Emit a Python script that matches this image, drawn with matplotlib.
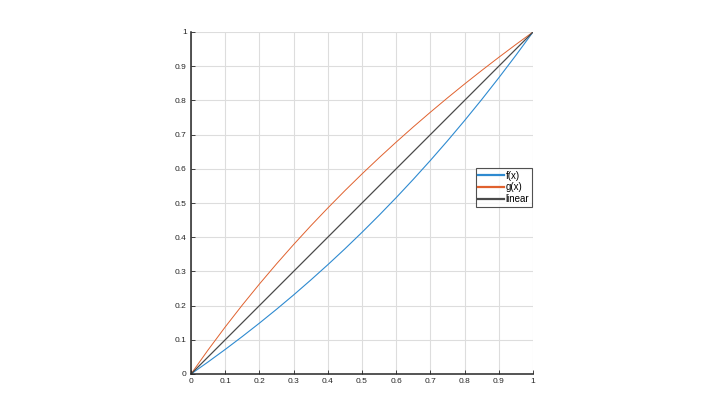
import matplotlib
matplotlib.use("Agg")
import matplotlib.pyplot as plt

x = [0.0, 0.05, 0.1, 0.15, 0.2, 0.25, 0.3, 0.35, 0.4, 0.45, 0.5,
     0.55, 0.6, 0.65, 0.7, 0.75, 0.8, 0.85, 0.9, 0.95, 1.0]
f_vals = [0.0, 0.0353, 0.0718, 0.1096, 0.1487, 0.1892, 0.2311, 0.2746, 0.3195, 0.3660, 0.4142,
          0.4641, 0.5157, 0.5692, 0.6245, 0.6818, 0.7411, 0.8025, 0.8661, 0.9319, 1.0]
g_vals = [0.0, 0.0704, 0.1375, 0.2016, 0.2630, 0.3219, 0.3785, 0.4330, 0.4854, 0.5361, 0.5850,
          0.6323, 0.6781, 0.7225, 0.7655, 0.8074, 0.8480, 0.8875, 0.9260, 0.9635, 1.0]
lin_vals = [0.0, 1.0]
lin_x = [0.0, 1.0]
ticks = [0, 0.1, 0.2, 0.3, 0.4, 0.5, 0.6, 0.7, 0.8, 0.9, 1]
tick_labels = ["0", "0.1", "0.2", "0.3", "0.4", "0.5", "0.6", "0.7", "0.8", "0.9", "1"]
series_names = ["f(x)", "g(x)", "linear"]

plt.rcParams['font.family'] = ['Liberation Sans', 'DejaVu Sans']
fig = plt.figure(figsize=(7.02, 4.2), dpi=100)
ax = fig.add_axes([191/702, 46/420, 342/702, 342/420])

ax.plot(x, f_vals, color='#2E8AD0', lw=0.8, label=series_names[0])
ax.plot(x, g_vals, color='#E0612E', lw=0.7, label=series_names[1])
ax.plot(lin_x, lin_vals, color='#4A4A4A', lw=0.9, label=series_names[2])

ax.set_xlim(0, 1)
ax.set_ylim(0, 1)
ax.set_xticks(ticks)
ax.set_yticks(ticks)
ax.set_xticklabels(tick_labels, fontsize=6)
ax.set_yticklabels(tick_labels, fontsize=6)
ax.grid(True, color='#DDDDDD', lw=0.8)
ax.set_axisbelow(True)
for s in ['top', 'right']:
    ax.spines[s].set_visible(False)
for s in ['left', 'bottom']:
    ax.spines[s].set_color('#262626')
    ax.spines[s].set_linewidth(1.1)
ax.tick_params(direction='in', length=3, width=0.6, colors='#262626', pad=3)

leg = ax.legend(loc='upper left', bbox_to_anchor=(0.833, 0.602), fontsize=7,
                frameon=True, fancybox=False, handlelength=2.6, handletextpad=0.2,
                borderpad=0.25, labelspacing=0.2, borderaxespad=0)
leg.get_frame().set_edgecolor('#262626')
leg.get_frame().set_linewidth(0.8)
for h in leg.get_lines():
    h.set_linewidth(1.6)

fig.savefig('out.png', dpi=100)
